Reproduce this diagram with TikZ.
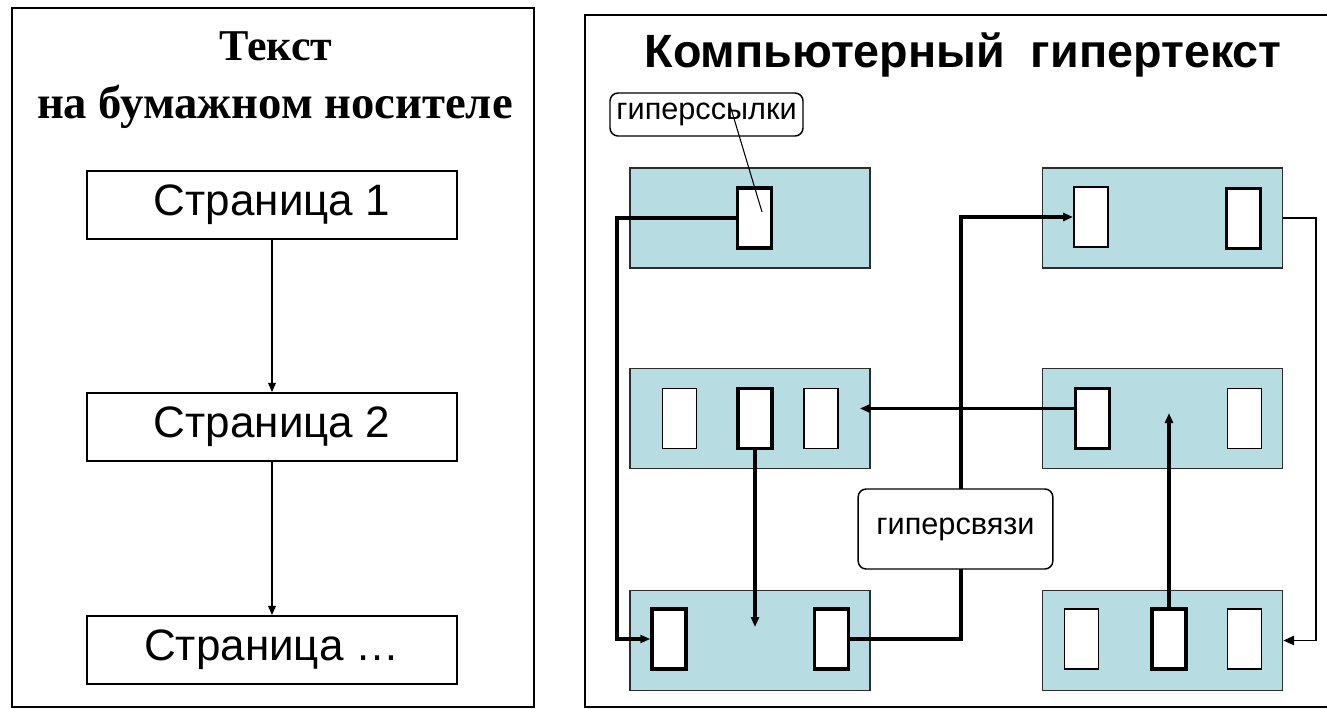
\documentclass[tikz,border=0pt]{standalone}
\usepackage{fontspec}
\setmainfont{Liberation Serif}
\newfontfamily\arialfont{Liberation Sans}
\usetikzlibrary{arrows.meta}

\definecolor{pagefill}{RGB}{183,221,226}
\definecolor{edgegray}{RGB}{45,45,45}

\tikzset{every picture/.style={line width=0.75pt}}
\tikzset{
  pagebox/.style={draw, line width=1.1pt, minimum width=277.5pt, minimum height=51pt, inner sep=0pt, font=\arialfont\fontsize{33}{40}\selectfont},
  webpage/.style={draw=edgegray, fill=pagefill, line width=1.3pt, minimum width=180pt, minimum height=75pt, inner sep=0pt},
  linkthin/.style={draw, fill=white, line width=1.4pt, minimum width=25.5pt, minimum height=45pt, inner sep=0pt},
  linkthick/.style={linkthin, line width=2.6pt},
  callout/.style={draw, fill=white, rounded corners=6pt, line width=1.1pt, inner sep=0pt, font=\arialfont\fontsize{23}{27}\selectfont},
  jump/.style={line width=2.3pt, -{Triangle[length=7.5pt,width=6pt]}},
}

\begin{document}
\begin{tikzpicture}[x=0.75pt,y=0.75pt,yscale=-1,xscale=1]
\useasboundingbox (0,0) rectangle (1327,708);

%Shape: Rectangle [left panel]
\draw [line width=1.1pt] (12,8) rectangle (534,707);
%Shape: Rectangle [right panel]
\draw [line width=1.1pt] (585,15) rectangle (1340,707);

% Text Node
\draw (276,60) node [anchor=base, font=\bfseries\fontsize{33}{40}\selectfont] (ttlA) {Текст};
% Text Node
\draw (275,118) node [anchor=base, font=\bfseries\fontsize{35}{42}\selectfont] (ttlB) {на бумажном\ носителе};
% Text Node
\draw (963,67) node [anchor=base, font=\arialfont\bfseries\fontsize{35}{42}\selectfont] (ttlC) {Компьютерный\ \ гипертекст};

%Shape: Rectangle [paper pages]
\draw (272,205) node [pagebox] (p1) {Страница 1};
\draw (272,427) node [pagebox] (p2) {Страница 2};
\draw (272,650) node [pagebox] (p3) {Страница …};

%Straight Lines
\draw [line width=1.9pt, -{Triangle[length=7pt,width=5.5pt]}] (p1) -- (p2);
\draw [line width=1.9pt, -{Triangle[length=7pt,width=5.5pt]}] (p2) -- (p3);

%Shape: Rectangle [web pages]
\draw (750,218) node [webpage] (wa) {};
\draw (750,418.5) node [webpage] (wb) {};
\draw (750,640.5) node [webpage] (wc) {};
\draw (1162.5,218) node [webpage] (wd) {};
\draw (1162.5,418.5) node [webpage] (we) {};
\draw (1162.5,640.5) node [webpage] (wf) {};

%Shape: Rectangle [links]
\draw (754.5,218) node [linkthick] (wa1) {};
\draw (679.5,418.5) node [linkthin] (wb1) {};
\draw (755,418.5) node [linkthick] (wb2) {};
\draw (821,418.5) node [linkthin] (wb3) {};
\draw (669,639) node [linkthick] (wc1) {};
\draw (831.5,639) node [linkthick] (wc2) {};
\draw (1091,217) node [linkthin] (wd1) {};
\draw (1243.5,218.5) node [linkthick] (wd2) {};
\draw (1092.5,418.5) node [linkthick] (we1) {};
\draw (1244.5,418.5) node [linkthin] (we2) {};
\draw (1081.5,639) node [linkthin] (wf1) {};
\draw (1169,639) node [linkthick] (wf2) {};
\draw (1244.5,639) node [linkthin] (wf3) {};

% bends and ends of the connectors
\coordinate (busL) at (617,430);
\coordinate (busM) at (961,400);
\coordinate (busR) at (1316,400);
\coordinate (tipB) at (756,627);
\coordinate (tipE) at (1168,413);
\coordinate (pin) at (762,212);

%Straight Lines
\draw [jump] (wa1.west) -| (busL) |- (wc1.west);
\draw [jump] (wb2.south) -- (wb2.south |- tipB);
\draw [jump] (wc2.east) -| (busM) |- (wd1.west);
\draw [jump] ([yshift=-7.5pt]we1.west) -- ([yshift=-7.5pt,xshift=-8.25pt]wb.east);
\draw [jump] (wf2.north) -- (wf2.north |- tipE);
\draw [line width=1.1pt, -{Triangle[length=8pt,width=7pt]}] (wd.east) -| (busR) |- (wf.east);

% Text Node
\draw (706.5,114.5) node [callout, minimum width=144.75pt, minimum height=32.25pt] (lblA) {гиперссылки};
% Text Node
\draw (955.5,529) node [callout, minimum width=146pt, minimum height=60pt] (lblB) {гиперсвязи};

%Straight Lines
\draw [line width=0.8pt] ([xshift=17.6pt,yshift=-7.1pt]lblA.center) -- (pin);

\end{tikzpicture}
\end{document}
